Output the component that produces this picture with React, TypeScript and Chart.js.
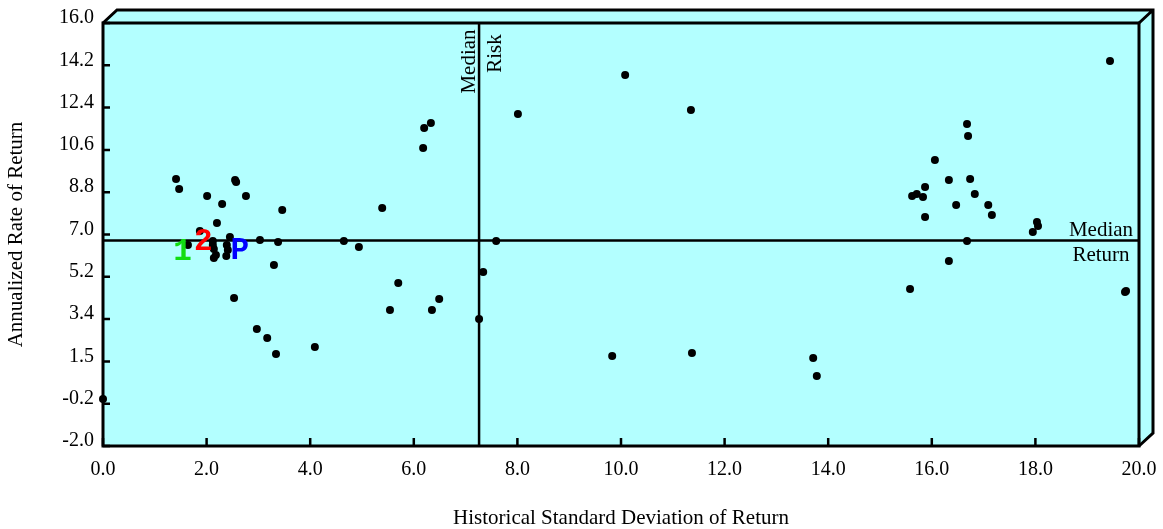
import React, { useEffect, useRef } from "react";
import { Chart, registerables } from "chart.js";

Chart.register(...registerables);

// ---- data ----
const riskValues = [
  1.41, 1.47, 2.01, 2.55, 2.57, 2.76, 2.3, 3.46, 2.2, 1.87, 2.45, 3.03, 3.38, 1.64, 2.12, 2.12,
  2.14, 2.18, 2.14, 2.38, 2.41, 2.39, 3.3, 2.53, 2.97, 3.17, 3.34, 0.0, 4.09, 4.65, 4.94, 5.39,
  5.7, 5.54, 6.35, 6.49, 6.33, 6.2, 6.18, 7.34, 7.26, 7.59, 8.01, 10.08, 11.35, 9.83, 11.37,
  13.71, 13.78, 19.44, 16.68, 16.7, 16.06, 16.33, 16.74, 15.87, 15.62, 15.71, 15.83, 16.83,
  16.47, 17.09, 15.87, 17.16, 18.03, 18.05, 17.95, 16.68, 16.33, 15.58, 19.73, 19.75,
];
const returnValues = [
  9.36, 8.94, 8.64, 9.32, 9.23, 8.64, 8.3, 8.04, 7.49, 7.15, 6.89, 6.77, 6.68, 6.55, 6.72, 6.55,
  6.38, 6.13, 6.0, 6.09, 6.34, 6.55, 5.7, 4.3, 2.98, 2.6, 1.92, 0.0, 2.21, 6.72, 6.47, 8.13,
  4.94, 3.79, 3.79, 4.26, 11.75, 11.53, 10.68, 5.4, 3.4, 6.72, 12.13, 13.79, 12.3, 1.83, 1.96,
  1.75, 0.98, 14.38, 11.7, 11.19, 10.17, 9.32, 9.36, 9.02, 8.64, 8.72, 8.6, 8.72,
  8.26, 8.26, 7.75, 7.83, 7.53, 7.36, 7.11, 6.72, 5.87, 4.68, 4.55, 4.6,
];

const markerLabels = ["1", "2", "P"];
const markerRisk = [1.535, 1.936, 2.639];
const markerReturn = [6.26, 6.68, 6.3];
const markerColors = ["#11dd11", "#ff0000", "#0000ff"];

const medianRisk = 7.26;
const medianReturn = 6.75;

const xTickValues = [0, 2, 4, 6, 8, 10, 12, 14, 16, 18, 20];
const xTickLabels = ["0.0", "2.0", "4.0", "6.0", "8.0", "10.0", "12.0", "14.0", "16.0", "18.0", "20.0"];
const yTickValues = [-2.0, -0.2, 1.6, 3.4, 5.2, 7.0, 8.8, 10.6, 12.4, 14.2, 16.0];
const yTickLabels = ["-2.0", "-0.2", "1.5", "3.4", "5.2", "7.0", "8.8", "10.6", "12.4", "14.2", "16.0"];

const xTitle = "Historical Standard Deviation of Return";
const yTitle = "Annualized Rate of Return";

// ---- style ----
const FILL = "#b3ffff";
const SERIF = "'Liberation Serif', 'Times New Roman', serif";
const DEPTH_X = 14;
const DEPTH_Y = 13;

const framePlugin = {
  id: "frame3d",
  beforeDatasetsDraw(chart: any) {
    const { ctx, chartArea: a, scales } = chart;
    ctx.save();
    // fill
    ctx.fillStyle = FILL;
    ctx.beginPath();
    ctx.moveTo(a.left, a.top);
    ctx.lineTo(a.left + DEPTH_X, a.top - DEPTH_Y);
    ctx.lineTo(a.right + DEPTH_X, a.top - DEPTH_Y);
    ctx.lineTo(a.right + DEPTH_X, a.bottom - DEPTH_Y);
    ctx.lineTo(a.right, a.bottom);
    ctx.lineTo(a.left, a.bottom);
    ctx.closePath();
    ctx.fill();

    ctx.strokeStyle = "#000";
    // median lines
    const mx = scales.x.getPixelForValue(medianRisk);
    const my = scales.y.getPixelForValue(medianReturn);
    ctx.lineWidth = 2.5;
    ctx.beginPath();
    ctx.moveTo(mx, a.top);
    ctx.lineTo(mx, a.bottom);
    ctx.moveTo(a.left, my);
    ctx.lineTo(a.right, my);
    ctx.stroke();

    // inward tick marks
    ctx.lineWidth = 2.5;
    ctx.beginPath();
    yTickValues.forEach((v) => {
      const py = scales.y.getPixelForValue(v);
      ctx.moveTo(a.left, py);
      ctx.lineTo(a.left + 7, py);
    });
    xTickValues.forEach((v) => {
      const px = scales.x.getPixelForValue(v);
      ctx.moveTo(px, a.bottom);
      ctx.lineTo(px, a.bottom - 8);
    });
    ctx.stroke();

    // frame
    ctx.lineWidth = 3;
    ctx.lineJoin = "miter";
    ctx.strokeRect(a.left, a.top, a.right - a.left, a.bottom - a.top);
    ctx.beginPath();
    ctx.moveTo(a.left, a.top);
    ctx.lineTo(a.left + DEPTH_X, a.top - DEPTH_Y);
    ctx.lineTo(a.right + DEPTH_X, a.top - DEPTH_Y);
    ctx.lineTo(a.right + DEPTH_X, a.bottom - DEPTH_Y);
    ctx.lineTo(a.right, a.bottom);
    ctx.moveTo(a.right, a.top);
    ctx.lineTo(a.right + DEPTH_X, a.top - DEPTH_Y);
    ctx.stroke();

    // median labels
    ctx.fillStyle = "#000";
    ctx.font = `21px ${SERIF}`;
    ctx.textAlign = "center";
    ctx.textBaseline = "alphabetic";
    ctx.fillText("Median", a.right - 38, my - 4.5);
    ctx.fillText("Return", a.right - 38, my + 21);

    ctx.save();
    ctx.translate(mx - 4.5, 61.5);
    ctx.rotate(-Math.PI / 2);
    ctx.fillText("Median", 0, 0);
    ctx.restore();
    ctx.save();
    ctx.translate(mx + 22, 53.5);
    ctx.rotate(-Math.PI / 2);
    ctx.fillText("Risk", 0, 0);
    ctx.restore();

    ctx.restore();
  },
  afterDatasetsDraw(chart: any) {
    const { ctx } = chart;
    const meta = chart.getDatasetMeta(1);
    ctx.save();
    ctx.font = `bold 31px 'Liberation Mono', 'Courier New', monospace`;
    ctx.textAlign = "center";
    ctx.textBaseline = "middle";
    meta.data.forEach((el: any, i: number) => {
      ctx.fillStyle = markerColors[i];
      ctx.fillText(markerLabels[i], el.x, el.y);
    });
    ctx.restore();
  },
};

export default function App() {
  const canvasRef = useRef<HTMLCanvasElement | null>(null);

  useEffect(() => {
    document.body.style.margin = "0";
    const canvas = canvasRef.current;
    if (!canvas) return;
    const chart = new Chart(canvas, {
      type: "scatter",
      data: {
        datasets: [
          {
            label: "Funds",
            data: riskValues.map((x, i) => ({ x, y: returnValues[i] })),
            backgroundColor: "#000",
            borderColor: "#000",
            borderWidth: 0,
            pointRadius: 4,
            clip: false as any,
          },
          {
            label: "Markers",
            data: markerRisk.map((x, i) => ({ x, y: markerReturn[i] })),
            pointRadius: 0,
            clip: false as any,
          },
        ],
      },
      options: {
        responsive: false,
        animation: false,
        devicePixelRatio: 1,
        events: [],
        layout: { padding: { top: 23, right: 24, left: 0, bottom: 0 } },
        plugins: {
          legend: { display: false },
          tooltip: { enabled: false },
        },
        scales: {
          x: {
            type: "linear",
            min: 0,
            max: 20,
            grid: { display: false, drawTicks: false },
            border: { display: false },
            afterBuildTicks: (scale: any) => {
              scale.ticks = xTickValues.map((v) => ({ value: v }));
            },
            afterFit: (scale: any) => {
              scale.height = 83;
              scale.paddingLeft = 0;
              scale.paddingRight = 0;
            },
            ticks: {
              autoSkip: false,
              maxRotation: 0,
              padding: 12,
              color: "#000",
              font: { family: SERIF, size: 20 },
              callback: (_v: any, i: number) => xTickLabels[i],
            },
            title: {
              display: true,
              text: xTitle,
              color: "#000",
              font: { family: SERIF, size: 21 },
              padding: { top: 0, bottom: -2 },
            },
          },
          y: {
            type: "linear",
            min: -2,
            max: 16,
            grid: { display: false, drawTicks: false },
            border: { display: false },
            afterBuildTicks: (scale: any) => {
              scale.ticks = yTickValues.map((v) => ({ value: v }));
            },
            afterFit: (scale: any) => {
              scale.width = 103;
              scale.paddingTop = 0;
              scale.paddingBottom = 0;
            },
            ticks: {
              autoSkip: false,
              padding: 9,
              labelOffset: -5,
              color: "#000",
              font: { family: SERIF, size: 20 },
              callback: (_v: any, i: number) => yTickLabels[i],
            },
            title: {
              display: true,
              text: yTitle,
              color: "#000",
              font: { family: SERIF, size: 21 },
              padding: { top: 4, bottom: 0 },
            },
          },
        },
      },
      plugins: [framePlugin],
    } as any);
    return () => chart.destroy();
  }, []);

  return (
    <div style={{ width: 1163, height: 529, background: "#fff" }}>
      <canvas ref={canvasRef} width={1163} height={529} style={{ display: "block" }} />
    </div>
  );
}
